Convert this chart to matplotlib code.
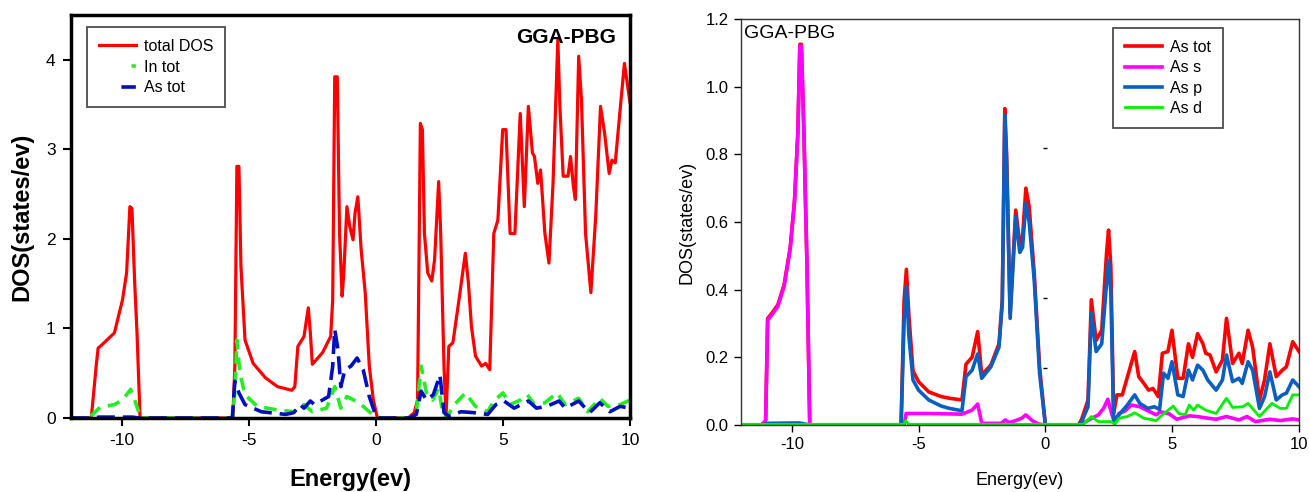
import matplotlib.pyplot as plt

plt.rcParams['font.family'] = ['Liberation Sans', 'DejaVu Sans']
plt.rcParams['axes.unicode_minus'] = False

# ---- left panel: total DOS and atom projected DOS ----
e_total = [-12, -11.2, -11.0, -10.93, -10.77, -10.29, -9.97, -9.81, -9.68, -9.6, -9.49, -9.4, -9.28,
           -5.63, -5.55, -5.47, -5.39, -5.31, -5.15, -4.83, -4.35, -3.87, -3.31, -3.19, -3.07,
           -2.83, -2.66, -2.58, -2.5, -2.1, -1.78, -1.7, -1.62, -1.52, -1.43, -1.33, -1.27,
           -1.14, -1.03, -0.9, -0.82, -0.71, -0.58, -0.42, -0.26, -0.1, 0.06, 1.27, 1.51,
           1.64, 1.75, 1.83, 1.91, 2.04, 2.2, 2.31, 2.47, 2.55, 2.68, 2.76, 2.87, 3.03, 3.27,
           3.52, 3.64, 3.76, 3.92, 4.16, 4.32, 4.48, 4.64, 4.8, 4.99, 5.12, 5.28, 5.47, 5.68,
           5.84, 6.0, 6.16, 6.24, 6.37, 6.48, 6.65, 6.81, 6.97, 7.16, 7.24, 7.37, 7.56, 7.66,
           7.77, 7.85, 7.98, 8.09, 8.25, 8.46, 8.65, 8.84, 9.0, 9.18, 9.29, 9.42, 9.61, 9.78, 10.0]
dos_total = [0, 0, 0.6, 0.78, 0.82, 0.95, 1.32, 1.62, 2.36, 2.34, 1.5, 0.95, 0,
             0, 0.58, 2.81, 2.81, 1.69, 0.87, 0.61, 0.45, 0.35, 0.31, 0.35, 0.8,
             0.91, 1.23, 0.95, 0.6, 0.73, 0.91, 1.32, 3.81, 3.81, 2.06, 1.36, 1.58,
             2.36, 2.14, 1.99, 2.29, 2.47, 1.88, 1.4, 0.58, 0.2, 0, 0, 0.06,
             0.2, 3.29, 3.22, 2.06, 1.62, 1.53, 1.77, 2.64, 2.06, 0.58, 0.02, 0.8, 0.84, 1.32,
             1.84, 1.51, 1.02, 0.69, 0.58, 0.61, 0.54, 2.06, 2.21, 3.22, 3.22, 2.06, 2.06, 3.4,
             2.36, 3.48, 2.96, 2.92, 2.62, 2.77, 2.06, 1.73, 2.62, 4.22, 3.48, 2.7, 2.7, 2.92,
             2.59, 2.44, 4.04, 3.55, 2.06, 1.4, 2.25, 3.48, 3.18, 2.73, 2.88, 2.85, 3.44, 3.96, 3.52]

e_in = [-12, -11.3, -10.85, -10.29, -9.97, -9.65, -9.49, -9.25, -5.65, -5.55, -5.47, -5.35,
        -5.15, -4.67, -3.87, -3.23, -2.83, -2.5, -1.94, -1.62, -1.38, -1.14, -0.66, -0.26,
        0.06, 1.3, 1.59, 1.78, 1.99, 2.23, 2.47, 2.63, 2.79, 3.03, 3.52, 3.92, 4.4, 4.64,
        5.0, 5.28, 5.68, 5.96, 6.24, 6.65, 7.13, 7.45, 7.98, 8.33, 8.81, 9.13, 9.61, 10.0]
dos_in = [0, 0, 0.12, 0.15, 0.2, 0.32, 0.2, 0, 0, 0.28, 0.87, 0.5,
          0.26, 0.13, 0.09, 0.07, 0.15, 0.07, 0.11, 0.35, 0.11, 0.24, 0.17, 0.07,
          0, 0, 0.06, 0.58, 0.28, 0.2, 0.33, 0.06, 0, 0.13, 0.28, 0.13, 0.07, 0.19,
          0.28, 0.15, 0.2, 0.26, 0.15, 0.17, 0.28, 0.15, 0.22, 0.07, 0.22, 0.13, 0.15, 0.2]

e_as = [-12, -11.2, -10.9, -9.6, -9.3, -5.65, -5.55, -5.39, -5.15, -4.51, -3.55, -3.23, -2.99,
        -2.83, -2.58, -2.42, -1.86, -1.7, -1.62, -1.49, -1.38, -1.22, -0.98, -0.74, -0.5,
        -0.26, -0.02, 0.06, 1.3, 1.59, 1.78, 1.99, 2.26, 2.52, 2.68, 2.87, 3.35, 3.84, 4.4,
        4.72, 5.04, 5.44, 6.0, 6.32, 6.72, 7.21, 7.45, 7.98, 8.41, 8.81, 9.21, 9.61, 10.0]
dos_as = [0, 0, 0.01, 0.01, 0, 0, 0.41, 0.28, 0.15, 0.07, 0.04, 0.06, 0.15,
          0.11, 0.19, 0.15, 0.24, 0.58, 0.99, 0.76, 0.35, 0.54, 0.58, 0.67, 0.54,
          0.24, 0.04, 0, 0, 0.04, 0.3, 0.2, 0.26, 0.48, 0.06, 0.02, 0.07, 0.06, 0.04,
          0.15, 0.19, 0.11, 0.19, 0.11, 0.13, 0.19, 0.11, 0.19, 0.06, 0.17, 0.07, 0.13, 0.11]

# ---- right panel: As orbital resolved DOS ----
e_s = [-12, -11.2, -11.03, -10.95, -10.79, -10.55, -10.3, -10.06, -9.89, -9.76, -9.68, -9.62,
       -9.52, -9.4, -9.29, -5.7, -5.57, -5.49, -4.6, -3.29, -2.89, -2.67, -2.51, -1.74, -1.58,
       -1.42, -1.17, -0.93, -0.77, -0.52, -0.28, 0.0, 1.3, 1.43, 1.76, 2.09, 2.3, 2.46, 2.61,
       2.74, 2.9, 3.15, 3.39, 3.72, 4.04, 4.37, 4.53, 4.86, 5.18, 5.67, 6.0, 6.32, 6.73, 7.14,
       7.63, 7.95, 8.28, 8.85, 9.26, 9.75, 10.0]
dos_s = [0, 0, 0.01, 0.31, 0.325, 0.35, 0.41, 0.52, 0.66, 0.86, 1.12, 1.12,
         0.86, 0.47, 0.0, 0, 0, 0.034, 0.034, 0.032, 0.044, 0.062, 0.005, 0.005, 0.015,
         0.007, 0.013, 0.02, 0.03, 0.013, 0.003, 0, 0, 0.003, 0.017, 0.03, 0.05, 0.076, 0.034,
         0.005, 0.034, 0.042, 0.059, 0.054, 0.042, 0.03, 0.039, 0.034, 0.017, 0.027, 0.025, 0.021,
         0.017, 0.025, 0.015, 0.025, 0.01, 0.017, 0.013, 0.018, 0.015]

e_p = [-12, -11.2, -10.9, -9.7, -9.3, -5.69, -5.57, -5.48, -5.38, -5.22, -5.0, -4.6, -4.11,
       -3.78, -3.29, -3.13, -2.89, -2.67, -2.51, -2.15, -1.83, -1.7, -1.6, -1.53, -1.39, -1.17,
       -1.01, -0.9, -0.77, -0.64, -0.44, -0.23, 0.0, 1.3, 1.43, 1.68, 1.81, 2.0, 2.22, 2.41,
       2.49, 2.58, 2.69, 2.9, 3.23, 3.52, 3.72, 4.04, 4.29, 4.5, 4.66, 4.83, 4.99, 5.22, 5.43,
       5.64, 5.8, 6.0, 6.21, 6.4, 6.73, 6.98, 7.14, 7.38, 7.63, 7.76, 7.99, 8.17, 8.44, 8.64,
       8.85, 9.1, 9.34, 9.5, 9.75, 10.0]
dos_p = [0, 0, 0.005, 0.006, 0, 0, 0.31, 0.41, 0.26, 0.133, 0.103, 0.074, 0.056,
         0.049, 0.042, 0.143, 0.162, 0.21, 0.138, 0.172, 0.23, 0.36, 0.915, 0.78, 0.315, 0.615,
         0.51, 0.525, 0.655, 0.6, 0.428, 0.153, 0, 0, 0.01, 0.054, 0.33, 0.217, 0.24, 0.418,
         0.487, 0.39, 0.015, 0.03, 0.059, 0.089, 0.064, 0.049, 0.054, 0.046, 0.153, 0.138, 0.187,
         0.089, 0.084, 0.162, 0.133, 0.177, 0.162, 0.133, 0.103, 0.133, 0.207, 0.128, 0.138, 0.123,
         0.187, 0.162, 0.049, 0.084, 0.157, 0.074, 0.089, 0.094, 0.133, 0.113]

e_tot = [-12, -11.2, -11.03, -10.95, -10.79, -10.55, -10.3, -10.06, -9.89, -9.76, -9.68, -9.62,
         -9.52, -9.4, -9.29, -5.69, -5.57, -5.48, -5.38, -5.22, -5.0, -4.6, -4.11, -3.78, -3.29,
         -3.13, -2.89, -2.67, -2.51, -2.15, -1.83, -1.7, -1.6, -1.53, -1.39, -1.17, -1.01, -0.9,
         -0.77, -0.64, -0.44, -0.23, 0.0, 1.3, 1.43, 1.68, 1.81, 2.0, 2.22, 2.41, 2.49, 2.58,
         2.69, 2.82, 3.03, 3.31, 3.52, 3.68, 3.88, 4.07, 4.24, 4.45, 4.61, 4.83, 4.99, 5.22,
         5.43, 5.64, 5.8, 6.0, 6.21, 6.32, 6.49, 6.73, 6.98, 7.14, 7.38, 7.63, 7.76, 7.99, 8.17,
         8.44, 8.64, 8.85, 9.1, 9.34, 9.5, 9.75, 10.0]
dos_tot = [0, 0, 0.012, 0.315, 0.33, 0.355, 0.415, 0.525, 0.665, 0.865, 1.125, 1.125,
           0.865, 0.475, 0.0, 0, 0.37, 0.46, 0.32, 0.16, 0.128, 0.098, 0.084, 0.079, 0.074,
           0.18, 0.2, 0.276, 0.148, 0.177, 0.24, 0.37, 0.935, 0.8, 0.33, 0.635, 0.536, 0.556,
           0.7, 0.645, 0.448, 0.172, 0, 0, 0.017, 0.074, 0.37, 0.25, 0.28, 0.507, 0.576, 0.468,
           0.034, 0.089, 0.089, 0.162, 0.217, 0.143, 0.123, 0.103, 0.108, 0.084, 0.212, 0.217, 0.28,
           0.138, 0.138, 0.24, 0.2, 0.27, 0.24, 0.212, 0.207, 0.157, 0.192, 0.315, 0.182, 0.212,
           0.182, 0.28, 0.23, 0.074, 0.133, 0.24, 0.143, 0.162, 0.172, 0.246, 0.217]

e_d = [-12, -5.6, -5.5, -5.4, 1.5, 1.81, 2.09, 2.58, 2.74, 2.9, 3.23, 3.52, 3.88, 4.37, 4.61,
       5.04, 5.26, 5.51, 5.67, 5.84, 6.0, 6.32, 6.73, 7.14, 7.38, 7.79, 7.99, 8.44, 8.93, 9.26,
       9.5, 9.75, 10.0]
dos_d = [0.002, 0.002, 0.013, 0.002, 0.002, 0.025, 0.01, 0.01, 0.003, 0.02, 0.025, 0.036, 0.02,
         0.013, 0.03, 0.056, 0.034, 0.03, 0.059, 0.044, 0.059, 0.044, 0.034, 0.079, 0.052, 0.054,
         0.064, 0.025, 0.064, 0.049, 0.049, 0.089, 0.089]

# stray marks at E = 0
e_mark = [0, 0, 0]
dos_mark = [0.82, 0.375, 0.168]

fig = plt.figure(figsize=(13.09, 4.92), dpi=100)

ax1 = fig.add_axes([0.0542, 0.1504, 0.4271, 0.8191])
ax1.plot(e_total, dos_total, color='#ff0000', lw=2.3, label='total DOS')
ax1.plot(e_in, dos_in, color='#22ee22', lw=2.6, dashes=(3.5, 2.2), label='In tot')
ax1.plot(e_as, dos_as, color='#0010c0', lw=2.6, dashes=(5, 2.2), label='As tot')
ax1.set_xlim(-12, 10)
ax1.set_ylim(0, 4.5)
ax1.set_xticks([-10, -5, 0, 5, 10])
ax1.set_yticks([0, 1, 2, 3, 4])
ax1.tick_params(direction='out', length=6, width=1.5, labelsize=12.5, pad=5)
for sp in ax1.spines.values():
    sp.set_linewidth(2.5)
    sp.set_color('black')
ax1.set_xlabel('Energy(ev)', fontsize=17, fontweight='bold')
ax1.set_ylabel('DOS(states/ev)', fontsize=17, fontweight='bold')
ax1.xaxis.set_label_coords(0.5, -0.125)
ax1.yaxis.set_label_coords(-0.068, 0.5)
ax1.text(0.975, 0.945, 'GGA-PBG', transform=ax1.transAxes, ha='right', va='center',
         fontsize=15, fontweight='bold')
leg1 = ax1.legend(loc='upper left', bbox_to_anchor=(87 / 1309, 1 - 27 / 492),
                  bbox_transform=fig.transFigure, fontsize=11.5, frameon=True, fancybox=False,
                  handlelength=2.3, handletextpad=0.5, labelspacing=0.36, borderpad=0.75,
                  borderaxespad=0)
leg1.get_frame().set_edgecolor('#222222')
leg1.get_frame().set_linewidth(1.3)
# dashed handles only show their last dash (handle is ~10.2 linewidths long)
h_in, h_as = leg1.get_lines()[1], leg1.get_lines()[2]
h_in.set_linestyle((30.7, (1.2, 38.5)))
h_as.set_linestyle((36.1, (4.0, 38.3)))

ax2 = fig.add_axes([0.5661, 0.1362, 0.4263, 0.8252])
ax2.plot(e_tot, dos_tot, color='#ff0000', lw=2.6, label='As tot')
ax2.plot(e_s, dos_s, color='#ff00ff', lw=2.6, label='As s')
ax2.plot(e_p, dos_p, color='#0a5fc0', lw=2.6, label='As p')
ax2.plot(e_d, dos_d, color='#00f000', lw=2.0, label='As d')
ax2.plot(e_mark, dos_mark, ls='none', marker='_', ms=3, color='black', mew=1)
ax2.set_xlim(-12, 10)
ax2.set_ylim(0, 1.2)
ax2.set_xticks([-10, -5, 0, 5, 10])
ax2.set_yticks([0, 0.2, 0.4, 0.6, 0.8, 1.0, 1.2])
ax2.yaxis.set_major_formatter(plt.FormatStrFormatter('%.1f'))
ax2.tick_params(direction='out', length=5, width=1, labelsize=12, pad=4)
for sp in ax2.spines.values():
    sp.set_linewidth(1)
    sp.set_color('#333333')
ax2.set_xlabel('Energy(ev)', fontsize=13)
ax2.set_ylabel('DOS(states/ev)', fontsize=13)
ax2.xaxis.set_label_coords(0.5, -0.115)
ax2.yaxis.set_label_coords(-0.082, 0.5)
ax2.text(0.005, 0.965, 'GGA-PBG', transform=ax2.transAxes, ha='left', va='center', fontsize=14)
leg2 = ax2.legend(loc='upper left', bbox_to_anchor=(1113 / 1309, 1 - 28 / 492),
                  bbox_transform=fig.transFigure, fontsize=11.5, frameon=True, fancybox=False,
                  handlelength=2.3, handletextpad=0.5, labelspacing=0.33, borderpad=0.75,
                  borderaxespad=0)
leg2.get_frame().set_edgecolor('#222222')
leg2.get_frame().set_linewidth(1.3)

fig.savefig('out.png', dpi=100)
